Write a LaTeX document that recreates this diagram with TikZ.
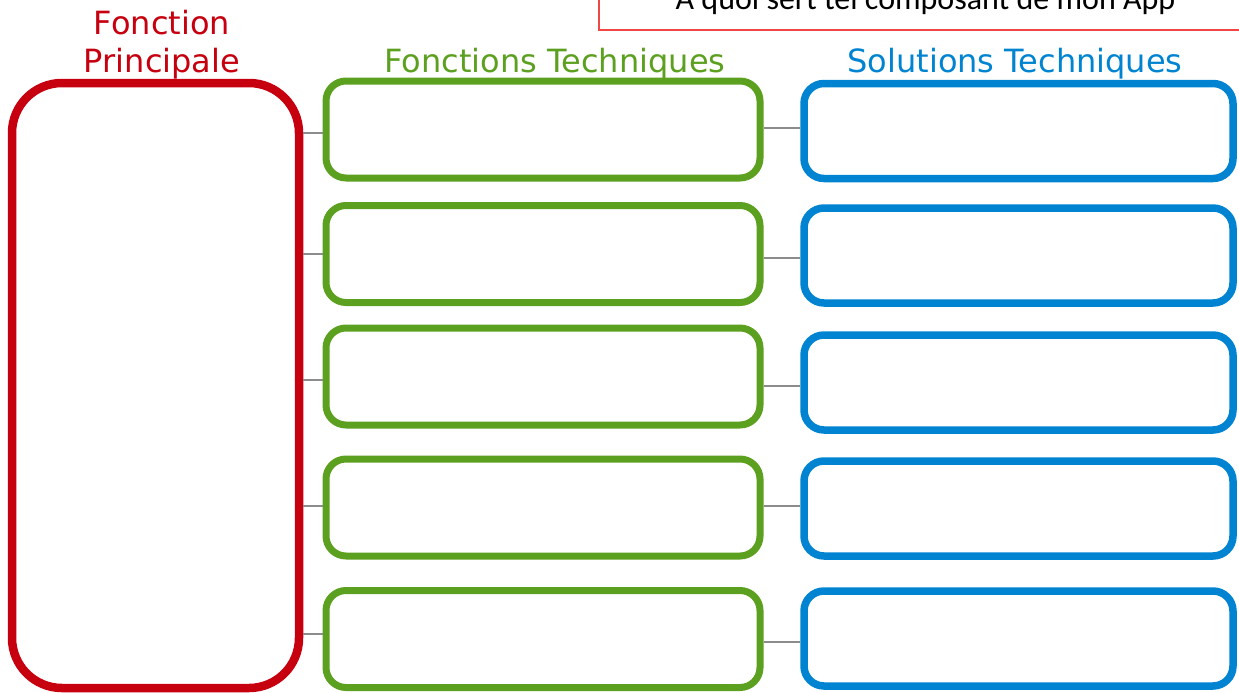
\documentclass[tikz,border=0pt]{standalone}
\usepackage{fontspec}
\setmainfont{DejaVu Sans}
\newfontfamily\notefont{Carlito}
\usetikzlibrary{positioning}

\definecolor{fpred}{RGB}{198,0,14}
\definecolor{ftgreen}{RGB}{92,160,32}
\definecolor{stblue}{RGB}{0,132,209}
\definecolor{linkgray}{RGB}{140,140,140}
\definecolor{notered}{RGB}{240,70,70}

\begin{document}
\begin{tikzpicture}[
        x=1pt, y=-1pt,
        principal/.style={rectangle, rounded corners=50pt, draw=fpred, line width=8.5pt, minimum width=287pt, minimum height=605pt},
        technique/.style={rectangle, rounded corners=20pt, draw=ftgreen, line width=7pt, minimum width=434pt, minimum height=97pt},
        solution/.style={rectangle, rounded corners=20pt, draw=stblue, line width=7.5pt, minimum width=429pt, minimum height=95pt},
        heading/.style={font=\fontsize{32}{39}\selectfont, align=center, inner sep=0pt},
        notebox/.style={rectangle, draw=notered, line width=1.2pt, minimum width=653pt, inner ysep=0pt, text height=40pt, text depth=20pt, font=\notefont\fontsize{32}{38}\selectfont},
        link/.style={draw=linkgray, line width=1.3pt},
    ]
        \useasboundingbox (0,0) rectangle (1239,693);
        \clip (0,0) rectangle (1239,693);

        \node[notebox, anchor=base] (note) at (925.5,10) {A quoi sert tel composant de mon App};

        \node[heading, text=fpred, anchor=base] (fphead) at (162,73) {Fonction\\Principale};
        \node[heading, text=ftgreen, anchor=base] (fthead) at (555,72) {Fonctions Techniques};
        \node[heading, text=stblue, anchor=base] (sthead) at (1015,72) {Solutions Techniques};

        \node[principal] (fp) at (155.5,385.5) {};

        \node[technique] (ft1) at (543,129.5) {};
        \node[technique] (ft2) at (543,254) {};
        \node[technique] (ft3) at (543,376.5) {};
        \node[technique] (ft4) at (543,507.5) {};
        \node[technique] (ft5) at (543,639) {};

        \node[solution] (st1) at (1018.5,131) {};
        \node[solution] (st2) at (1018.5,255.5) {};
        \node[solution] (st3) at (1018.5,382.5) {};
        \node[solution] (st4) at (1018.5,508.5) {};
        \node[solution] (st5) at (1018.5,638.5) {};

        % links, slightly off the box centres as in the sketch
        \foreach \i/\a/\b in {1/-3.5/3, 2/0/-2.5, 3/-3.5/-3.5, 4/1.5/2.5, 5/5/-3.5} {
            \coordinate (fa\i) at ([yshift=\a pt]ft\i.west);
            \coordinate (sa\i) at ([yshift=\b pt]st\i.west);
            \draw[link] (fp.east |- fa\i) -- (fa\i);
            \draw[link] (ft\i.east |- sa\i) -- (sa\i);
        }
\end{tikzpicture}
\end{document}
